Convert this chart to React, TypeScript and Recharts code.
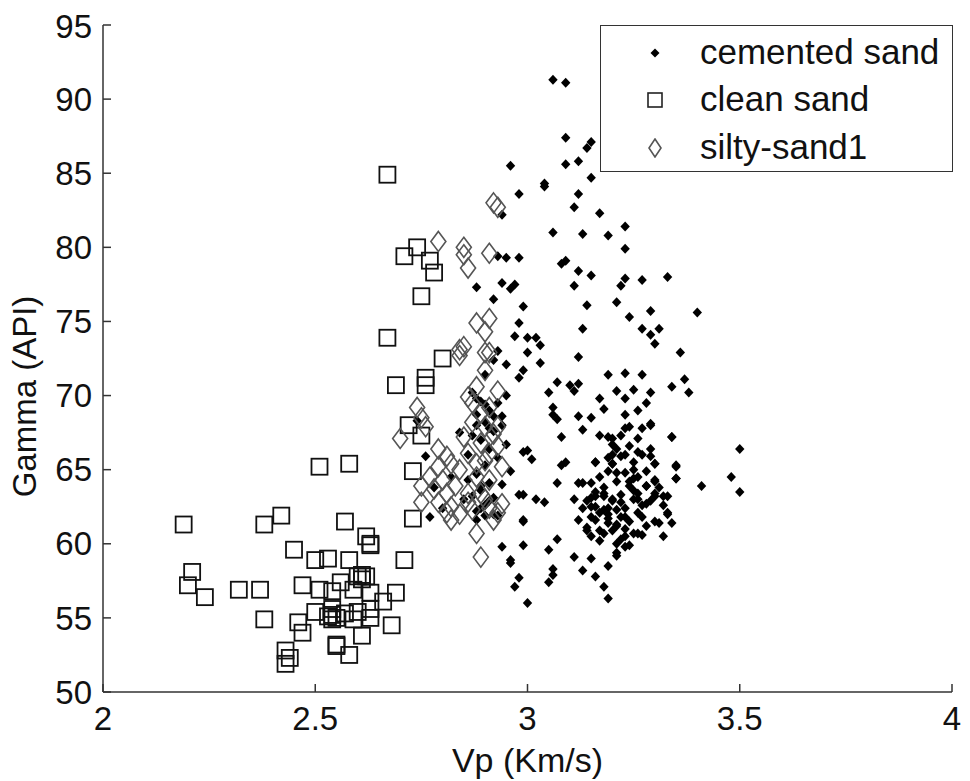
import React from 'react';
import { ScatterChart, Scatter, XAxis, YAxis, Legend } from 'recharts';

const FONT = '"Liberation Sans", Arial, Helvetica, sans-serif';

const xTicks = [2, 2.5, 3, 3.5, 4];
const yTicks = [50, 55, 60, 65, 70, 75, 80, 85, 90, 95];

const seriesNames = ['cemented sand', 'clean sand', 'silty-sand1'];

const cementedSand: [number, number][] = [
  [3.06, 91.3], [3.09, 91.1], [3.09, 87.4], [3.15, 87.1], [3.14, 86.7], [2.96, 85.5], [3.09, 85.6], [3.12, 85.8],
  [3.15, 84.7], [3.04, 84.3], [3.04, 84.1], [2.98, 83.6], [3.12, 83.6], [3.11, 82.7], [2.94, 82.2], [3.17, 82.3],
  [3.23, 81.4], [3.06, 81.0], [3.13, 80.9], [3.19, 80.8], [3.23, 79.9], [2.93, 79.4], [2.95, 79.3], [2.98, 79.3],
  [3.08, 78.9], [3.09, 79.1], [3.12, 78.4], [3.15, 78.1], [2.94, 77.6], [2.96, 77.2], [2.97, 77.5], [2.88, 77.3],
  [3.11, 77.4], [3.23, 77.9], [3.22, 77.4], [3.27, 77.8], [3.33, 78.0], [2.92, 76.5], [2.99, 76.0], [3.14, 76.1],
  [3.21, 76.3], [3.29, 75.7], [3.4, 75.6], [3.24, 75.3], [2.98, 74.9], [3.13, 74.5], [3.27, 74.5], [3.31, 74.5],
  [3.29, 74.1], [2.97, 74.0], [3.0, 73.9], [3.02, 73.9], [3.03, 73.4], [3.3, 73.5], [3.0, 72.9], [3.36, 72.9],
  [3.12, 72.6], [2.95, 72.1], [3.03, 72.2], [2.99, 71.7], [2.98, 71.2], [3.19, 71.4], [3.23, 71.5], [3.27, 71.4],
  [3.37, 71.1], [3.34, 70.6], [3.38, 70.2], [3.07, 70.9], [3.1, 70.7], [3.12, 70.8], [3.05, 70.2], [3.11, 70.3],
  [3.21, 70.3], [3.25, 70.4], [3.29, 70.2], [3.23, 69.8], [3.28, 69.5], [3.17, 69.8], [3.06, 69.2], [3.18, 69.1],
  [3.26, 69.0], [3.06, 68.7], [3.12, 68.6], [3.15, 68.5], [3.23, 68.7], [3.29, 68.0], [2.94, 68.6], [3.07, 68.4],
  [3.13, 67.7], [3.17, 67.3], [3.23, 67.8], [3.27, 67.8], [3.34, 67.2], [3.2, 67.1], [3.08, 67.2], [3.5, 66.4],
  [2.99, 66.2], [3.01, 65.7], [3.0, 66.3], [3.2, 66.7], [3.24, 66.6], [3.22, 65.9], [3.27, 66.0], [3.3, 65.4],
  [3.16, 65.5], [3.2, 65.4], [3.09, 65.5], [3.08, 65.3], [3.35, 65.3], [3.19, 64.9], [3.23, 64.8], [3.28, 64.9],
  [3.35, 64.4], [3.48, 64.5], [2.96, 64.9], [3.07, 64.1], [3.12, 64.1], [3.15, 64.1], [3.41, 63.9], [3.5, 63.5],
  [2.98, 63.3], [2.99, 63.3], [3.02, 63.0], [3.04, 62.8], [3.11, 63.0], [3.15, 63.1], [3.18, 63.2], [3.22, 63.3],
  [3.26, 63.4], [3.3, 63.2], [3.33, 63.2], [3.13, 62.4], [3.16, 62.5], [3.19, 62.4], [3.23, 62.4], [3.27, 62.6],
  [3.32, 62.6], [3.15, 61.8], [3.19, 61.7], [3.22, 61.8], [3.26, 62.1], [3.3, 61.5], [3.34, 61.4], [3.14, 61.1],
  [3.17, 60.9], [3.2, 60.9], [3.25, 60.7], [3.27, 60.6], [3.32, 60.5], [3.15, 60.5], [3.22, 60.3], [3.23, 59.8],
  [2.99, 61.5], [2.99, 61.6], [2.99, 59.9], [2.94, 59.8], [2.96, 58.9], [2.96, 58.7], [3.11, 59.1], [3.15, 59.0],
  [3.21, 59.2], [3.13, 58.2], [3.16, 57.8], [3.19, 58.5], [3.06, 58.3], [3.06, 57.9], [3.05, 57.4], [2.98, 57.7],
  [2.97, 57.1], [3.18, 57.1], [3.19, 56.3], [3.0, 56.0], [3.07, 60.3], [3.05, 59.6],
  [2.87, 70.2], [2.89, 69.6], [2.91, 69.0], [2.88, 68.7], [2.9, 68.2], [2.92, 67.6], [2.89, 67.0], [2.91, 66.4],
  [2.93, 65.8], [2.9, 65.3], [2.88, 64.7], [2.91, 64.1], [2.89, 63.6], [2.92, 63.1], [2.9, 62.6], [2.88, 62.2],
  [2.93, 61.9], [2.86, 66.0], [2.85, 63.0], [2.94, 68.0], [2.95, 70.0], [2.94, 64.0], [2.84, 67.5], [2.82, 64.5],
  [2.8, 62.4], [2.78, 63.8], [2.76, 65.9], [2.74, 68.3], [2.77, 61.8], [2.95, 66.7], [2.9, 71.4], [2.92, 72.4],
  [2.93, 73.0],
  [2.88, 69.8], [2.9, 69.4], [2.92, 68.6], [2.88, 68.0], [2.91, 67.8], [2.87, 67.3], [2.93, 69.5], [2.89, 63.9],
  [2.87, 63.2], [2.91, 62.9], [2.89, 62.4], [2.92, 62.0], [2.86, 64.3], [2.9, 61.9], [2.88, 61.6],
  [3.17, 64.5], [3.21, 64.2], [3.25, 64.4], [3.18, 63.8], [3.24, 63.9], [3.28, 63.9], [3.16, 63.5], [3.2, 62.9],
  [3.25, 63.0], [3.29, 62.9], [3.17, 62.1], [3.21, 61.3], [3.24, 61.5], [3.28, 61.2], [3.19, 65.8], [3.25, 65.5],
  [3.29, 66.4], [3.22, 67.3], [3.26, 67.1], [3.3, 64.2], [3.14, 62.9], [3.12, 61.6], [3.31, 63.8], [3.33, 62.0],
  [3.19, 67.2], [3.24, 67.9], [3.29, 68.1], [3.21, 66.4], [3.26, 66.2], [3.29, 65.9], [3.3, 65.4], [3.2, 65.4],
  [3.21, 64.8], [3.25, 65.0], [3.26, 64.5], [3.3, 64.3], [3.28, 63.9], [3.25, 63.6], [3.26, 63.0], [3.28, 62.7],
  [3.3, 63.4], [3.16, 63.2], [3.18, 63.4], [3.2, 63.0], [3.15, 62.5], [3.18, 62.3], [3.21, 62.3], [3.23, 61.8],
  [3.16, 61.6], [3.19, 61.4], [3.14, 60.9], [3.18, 60.7], [3.21, 61.2], [3.23, 60.5], [3.26, 60.7], [3.31, 61.4],
  [3.32, 63.2], [3.33, 62.1], [3.35, 65.2], [3.35, 64.4], [3.34, 67.2], [3.13, 64.1], [3.16, 65.5], [3.21, 60.0],
  [3.24, 59.9], [3.21, 59.4], [3.23, 61.0], [3.19, 62.0], [3.22, 62.8], [3.24, 64.2], [3.27, 61.8], [3.17, 60.2],
  [3.2, 66.0], [3.23, 66.0],
];

const cleanSand: [number, number][] = [
  [2.67, 84.9], [2.74, 80.0], [2.71, 79.4], [2.77, 79.1], [2.78, 78.3], [2.75, 76.7], [2.67, 73.9], [2.8, 72.5],
  [2.76, 71.2], [2.76, 70.7], [2.69, 70.7], [2.72, 68.0], [2.75, 67.3], [2.73, 64.9], [2.51, 65.2], [2.58, 65.4],
  [2.19, 61.3], [2.38, 61.3], [2.42, 61.9], [2.57, 61.5], [2.73, 61.7], [2.62, 60.5], [2.63, 59.9], [2.63, 60.0],
  [2.45, 59.6], [2.5, 58.9], [2.53, 59.0], [2.58, 58.9], [2.71, 58.9], [2.21, 58.1], [2.2, 57.2], [2.24, 56.4],
  [2.32, 56.9], [2.37, 56.9], [2.47, 57.2], [2.51, 56.9], [2.54, 56.8], [2.56, 57.4], [2.6, 57.8], [2.61, 57.9],
  [2.61, 57.6], [2.62, 57.8], [2.59, 56.9], [2.63, 56.7], [2.66, 56.1], [2.69, 56.7], [2.38, 54.9], [2.46, 54.7],
  [2.47, 54.0], [2.5, 55.4], [2.53, 55.1], [2.54, 55.2], [2.54, 54.9], [2.57, 55.3], [2.6, 55.4], [2.63, 55.6],
  [2.63, 55.0], [2.68, 54.5], [2.61, 53.8], [2.55, 53.2], [2.55, 53.1], [2.58, 52.5], [2.43, 52.8], [2.44, 52.3],
  [2.43, 51.9], [2.54, 55.6], [2.55, 55.0], [2.59, 54.9],
];

const siltySand1: [number, number][] = [
  [2.92, 83.0], [2.93, 82.7], [2.79, 80.4], [2.85, 80.0], [2.85, 79.5], [2.86, 78.6], [2.91, 79.6], [2.88, 74.9],
  [2.91, 75.2], [2.9, 74.3], [2.85, 73.3], [2.9, 72.9], [2.91, 72.9], [2.84, 73.1], [2.84, 72.7], [2.9, 71.7],
  [2.88, 70.6], [2.74, 69.2], [2.75, 68.5], [2.7, 67.1], [2.76, 67.9], [2.86, 69.9], [2.87, 69.5], [2.93, 70.3],
  [2.93, 67.9], [2.79, 66.4], [2.81, 65.9], [2.82, 65.4], [2.79, 65.2], [2.84, 65.0], [2.86, 66.1], [2.88, 65.4],
  [2.89, 66.8], [2.91, 66.1], [2.94, 65.2], [2.77, 64.5], [2.75, 63.9], [2.78, 63.7], [2.81, 63.4], [2.83, 63.9],
  [2.86, 63.4], [2.79, 62.8], [2.75, 62.8], [2.82, 62.5], [2.81, 62.1], [2.82, 61.6], [2.86, 62.8], [2.87, 62.3],
  [2.91, 62.4], [2.93, 62.1], [2.94, 62.7], [2.92, 61.6], [2.88, 60.7], [2.89, 59.1], [2.9, 67.9], [2.89, 68.8],
  [2.91, 69.2], [2.92, 67.4], [2.93, 66.6], [2.88, 64.5], [2.91, 64.3], [2.89, 63.4], [2.9, 63.0], [2.87, 68.2],
  [2.85, 67.2], [2.8, 64.3], [2.84, 62.0], [2.9, 65.6],
];

const toPoints = (arr: [number, number][]) => arr.map(([x, y]) => ({ x, y }));

const CementedShape = (props: any) => {
  const { cx, cy } = props;
  if (cx == null || cy == null) return null;
  return (
    <polygon
      points={`${cx},${cy - 5} ${cx + 4.7},${cy} ${cx},${cy + 5} ${cx - 4.7},${cy}`}
      fill="#000"
      stroke="none"
    />
  );
};

const SquareShape = (props: any) => {
  const { cx, cy } = props;
  if (cx == null || cy == null) return null;
  return <rect x={cx - 8} y={cy - 8} width={16} height={16} fill="none" stroke="#111" strokeWidth={1.8} />;
};

const DiamondShape = (props: any) => {
  const { cx, cy } = props;
  if (cx == null || cy == null) return null;
  return (
    <polygon
      points={`${cx},${cy - 10} ${cx + 7.5},${cy} ${cx},${cy + 10} ${cx - 7.5},${cy}`}
      fill="none"
      stroke="#555"
      strokeWidth={1.6}
    />
  );
};

const renderLegend = () => {
  const rows = [
    { name: seriesNames[0], top: 27, marker: <polygon points="10,5.5 14.5,10 10,14.5 5.5,10" fill="#000" /> },
    { name: seriesNames[1], top: 74, marker: <rect x={3} y={3} width={14} height={14} fill="none" stroke="#222" strokeWidth={1.6} /> },
    { name: seriesNames[2], top: 122, marker: <polygon points="10,1 16,10 10,19 4,10" fill="none" stroke="#555" strokeWidth={1.6} /> },
  ];
  return (
    <div
      style={{
        position: 'relative',
        width: 353,
        height: 147,
        border: '1.5px solid #333',
        boxSizing: 'border-box',
        background: '#fff',
        fontFamily: FONT,
        fontSize: 35,
        color: '#111',
      }}
    >
      {rows.map((r) => (
        <div key={r.name} style={{ position: 'absolute', left: 0, top: r.top - 20, height: 40, width: 353 }}>
          <svg width={20} height={20} style={{ position: 'absolute', left: 44, top: 10 }}>
            {r.marker}
          </svg>
          <span style={{ position: 'absolute', left: 99, top: 0, lineHeight: '38px', whiteSpace: 'nowrap' }}>{r.name}</span>
        </div>
      ))}
    </div>
  );
};

const XLabel = (props: any) => {
  const vb = props.viewBox || {};
  return (
    <text x={vb.x + vb.width / 2} y={vb.y + 80} textAnchor="middle" fontFamily={FONT} fontSize={34} fill="#111">
      Vp (Km/s)
    </text>
  );
};

const YLabel = (props: any) => {
  const vb = props.viewBox || {};
  const x = vb.x - 19;
  const y = vb.y + vb.height / 2 + 38;
  return (
    <text x={x} y={y} transform={`rotate(-90, ${x}, ${y})`} textAnchor="middle" dominantBaseline="central" fontFamily={FONT} fontSize={33} fill="#111">
      Gamma (API)
    </text>
  );
};

const tickStyle = { fontFamily: FONT, fontSize: 33, fill: '#111' };

export default function App() {
  return (
    <ScatterChart width={962} height={773} margin={{ top: 17, right: 18, left: 35, bottom: 9 }}>
      <XAxis
        type="number"
        dataKey="x"
        domain={[2, 4]}
        ticks={xTicks}
        height={80}
        tickSize={-8}
        tickMargin={23}
        tick={tickStyle}
        stroke="#333"
        strokeWidth={1.5}
        allowDataOverflow
        label={<XLabel />}
      />
      <XAxis
        xAxisId="top"
        orientation="top"
        type="number"
        dataKey="x"
        domain={[2, 4]}
        ticks={xTicks}
        height={0}
        tickSize={-8}
        tick={false}
        stroke="#333"
        strokeWidth={1.5}
        allowDataOverflow
      />
      <YAxis
        type="number"
        dataKey="y"
        domain={[50, 95]}
        ticks={yTicks}
        width={60}
        tickSize={-8}
        tickMargin={19}
        tick={tickStyle}
        stroke="#333"
        strokeWidth={1.5}
        allowDataOverflow
        label={<YLabel />}
      />
      <YAxis
        yAxisId="right"
        orientation="right"
        type="number"
        dataKey="y"
        domain={[50, 95]}
        ticks={yTicks}
        width={0}
        tickSize={-8}
        tick={false}
        stroke="#333"
        strokeWidth={1.5}
        allowDataOverflow
      />
      <Legend
        layout="vertical"
        align="center"
        verticalAlign="middle"
        content={renderLegend}
        wrapperStyle={{ top: 17, left: 592, width: 353, height: 147 }}
      />
      <Scatter name={seriesNames[0]} data={toPoints(cementedSand)} shape={CementedShape} isAnimationActive={false} />
      <Scatter name={seriesNames[1]} data={toPoints(cleanSand)} shape={SquareShape} isAnimationActive={false} />
      <Scatter name={seriesNames[2]} data={toPoints(siltySand1)} shape={DiamondShape} isAnimationActive={false} />
    </ScatterChart>
  );
}
